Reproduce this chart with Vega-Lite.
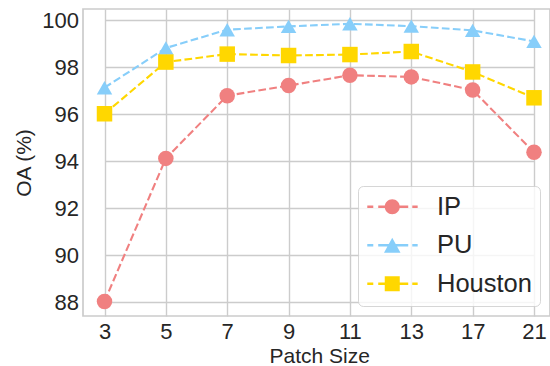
{
  "$schema": "https://vega.github.io/schema/vega-lite/v6.json",
  "width": 467,
  "height": 307,
  "autosize": {"type": "none"},
  "padding": {"left": 83, "top": 9, "right": 0, "bottom": 50},
  "background": "white",
  "config": {
    "font": "Liberation Sans",
    "view": {"stroke": "#cccccc", "strokeWidth": 1.7},
    "axis": {
      "domain": false,
      "ticks": false,
      "tickSize": 0,
      "grid": true,
      "gridColor": "#cccccc",
      "gridWidth": 1.4,
      "labelColor": "#262626",
      "labelFontSize": 22,
      "labelFont": "Liberation Sans",
      "titleColor": "#262626",
      "titleFontSize": 21,
      "titleFont": "Liberation Sans",
      "titleFontWeight": "normal"
    },
    "legend": {
      "orient": "none",
      "legendX": 275,
      "legendY": 177,
      "padding": 8,
      "rowPadding": 11.5,
      "symbolSize": 225,
      "symbolOffset": 13.5,
      "labelOffset": 32,
      "labelFontSize": 25.5,
      "labelFont": "Liberation Sans",
      "labelColor": "#262626",
      "labelLimit": 300,
      "symbolStrokeWidth": 0,
      "symbolOpacity": 1,
      "symbolFillColor": "#888888",
      "fillColor": "rgba(255,255,255,0.8)",
      "strokeColor": "rgba(204,204,204,0.8)",
      "cornerRadius": 5
    }
  },
  "data": {
    "values": [
      {"patch": 3, "dataset": "IP", "oa": 88.03},
      {"patch": 5, "dataset": "IP", "oa": 94.12},
      {"patch": 7, "dataset": "IP", "oa": 96.79},
      {"patch": 9, "dataset": "IP", "oa": 97.22},
      {"patch": 11, "dataset": "IP", "oa": 97.66},
      {"patch": 13, "dataset": "IP", "oa": 97.59},
      {"patch": 17, "dataset": "IP", "oa": 97.03},
      {"patch": 21, "dataset": "IP", "oa": 94.38},
      {"patch": 3, "dataset": "PU", "oa": 97.13},
      {"patch": 5, "dataset": "PU", "oa": 98.82},
      {"patch": 7, "dataset": "PU", "oa": 99.6},
      {"patch": 9, "dataset": "PU", "oa": 99.74},
      {"patch": 11, "dataset": "PU", "oa": 99.85},
      {"patch": 13, "dataset": "PU", "oa": 99.75},
      {"patch": 17, "dataset": "PU", "oa": 99.57},
      {"patch": 21, "dataset": "PU", "oa": 99.1},
      {"patch": 3, "dataset": "Houston", "oa": 96.02},
      {"patch": 5, "dataset": "Houston", "oa": 98.22},
      {"patch": 7, "dataset": "Houston", "oa": 98.56},
      {"patch": 9, "dataset": "Houston", "oa": 98.5},
      {"patch": 11, "dataset": "Houston", "oa": 98.54},
      {"patch": 13, "dataset": "Houston", "oa": 98.67},
      {"patch": 17, "dataset": "Houston", "oa": 97.8},
      {"patch": 21, "dataset": "Houston", "oa": 96.7}
    ]
  },
  "encoding": {
    "x": {
      "field": "patch",
      "type": "ordinal",
      "scale": {"range": [21.5, 451], "padding": 0},
      "axis": {"title": "Patch Size", "labelAngle": 0, "labelPadding": 5, "titlePadding": 3}
    },
    "y": {
      "field": "oa",
      "type": "quantitative",
      "scale": {"domain": [87.41, 100.48], "nice": false, "zero": false},
      "axis": {"title": "OA (%)", "values": [88, 90, 92, 94, 96, 98, 100], "labelPadding": 4.5, "titlePadding": 7}
    }
  },
  "layer": [
    {
      "mark": {"type": "line", "strokeWidth": 2.1, "strokeDash": [7.7, 3.3]},
      "encoding": {
        "color": {
          "field": "dataset",
          "type": "nominal",
          "scale": {"domain": ["IP", "PU", "Houston"], "range": ["#F08080", "#87CEFA", "#FFD700"]},
          "legend": null
        }
      }
    },
    {
      "mark": {"type": "point", "filled": true, "opacity": 1, "size": 240, "strokeWidth": 0},
      "encoding": {
        "color": {
          "field": "dataset",
          "type": "nominal",
          "scale": {"domain": ["IP", "PU", "Houston"], "range": ["#F08080", "#87CEFA", "#FFD700"]},
          "legend": null
        },
        "shape": {
          "field": "dataset",
          "type": "nominal",
          "scale": {"domain": ["IP", "PU", "Houston"], "range": ["circle", "triangle-up", "square"]},
          "legend": null
        }
      }
    },
    {
      "transform": [{"filter": "false"}],
      "mark": {"type": "point", "filled": true, "opacity": 1, "size": 225, "strokeWidth": 0},
      "encoding": {
        "fill": {
          "field": "dataset",
          "type": "nominal",
          "scale": {"domain": ["IP", "PU", "Houston"], "range": ["#F08080", "#87CEFA", "#FFD700"]},
          "legend": {"title": null}
        },
        "shape": {
          "field": "dataset",
          "type": "nominal",
          "scale": {
            "domain": ["IP", "PU", "Houston"],
            "range": [
              "M-1,0A1,1,0,1,1,1,0A1,1,0,1,1,-1,0Z M-3.33,-0.16H-2.53V0.16H-3.33Z M-1.87,-0.16H2.13V0.16H-1.87Z M2.67,-0.16H3.39V0.16H2.67Z",
              "M0,-1L1.1,1L-1.1,1Z M-3.33,-0.16H-2.53V0.16H-3.33Z M-1.87,-0.16H2.13V0.16H-1.87Z M2.67,-0.16H3.39V0.16H2.67Z",
              "M-1,-1H1V1H-1Z M-3.33,-0.16H-2.53V0.16H-3.33Z M-1.87,-0.16H2.13V0.16H-1.87Z M2.67,-0.16H3.39V0.16H2.67Z"
            ]
          },
          "legend": {"title": null}
        }
      }
    }
  ],
  "resolve": {"scale": {"shape": "independent", "fill": "independent"}}
}
